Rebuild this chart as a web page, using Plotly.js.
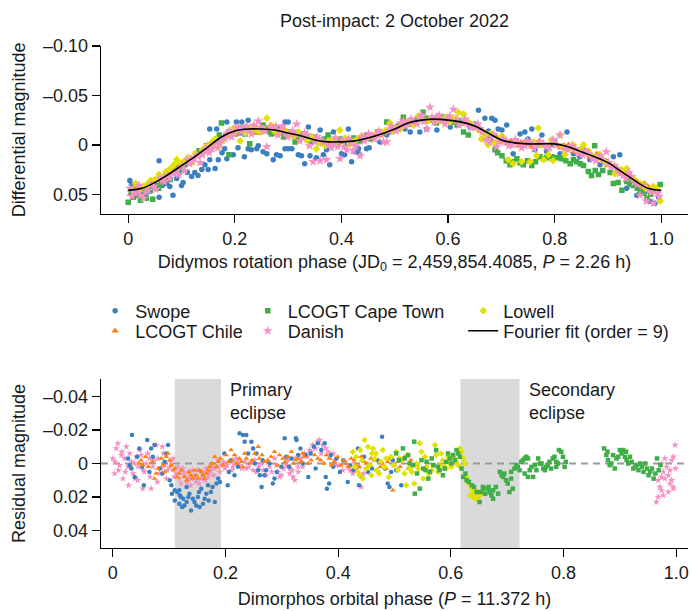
<!DOCTYPE html>
<html>
<head>
<meta charset="utf-8">
<script src="https://cdn.plot.ly/plotly-3.0.1.min.js"></script>
<style>html,body{margin:0;padding:0;background:#fff;}#chart{width:691px;height:611px;}</style>
</head>
<body>
<div id="chart"></div>
<script>
// ---------- TOP PANEL: differential magnitude vs Didymos rotation phase ----------
const fitX = [0.000,0.025,0.050,0.075,0.100,0.125,0.150,0.175,0.200,0.225,0.250,0.275,0.300,0.325,0.350,0.375,0.400,0.425,0.450,0.475,0.500,0.525,0.550,0.575,0.600,0.625,0.650,0.675,0.700,0.725,0.750,0.775,0.800,0.825,0.850,0.875,0.900,0.925,0.950,0.975,1.000];
const fitY = [0.046,0.044,0.038,0.030,0.021,0.012,0.002,-0.008,-0.014,-0.016,-0.016,-0.015,-0.012,-0.009,-0.005,-0.003,-0.003,-0.004,-0.007,-0.011,-0.016,-0.022,-0.025,-0.026,-0.025,-0.023,-0.019,-0.012,-0.005,-0.002,-0.001,-0.001,-0.001,0.002,0.007,0.012,0.018,0.027,0.036,0.044,0.046];

const swopeTop = [[0.003,0.036],[0.006,0.040],[0.013,0.044],[0.034,0.051],[0.041,0.047],[0.058,0.016],[0.058,0.053],[0.072,0.039],[0.078,0.042],[0.084,0.051],[0.091,0.034],[0.100,0.041],[0.103,0.038],[0.111,0.028],[0.119,0.032],[0.125,0.028],[0.131,0.031],[0.138,0.025],[0.150,0.025],[0.153,0.015],[0.163,0.024],[0.169,0.015],[0.181,0.004],[0.185,0.014],[0.153,-0.016],[0.166,-0.016],[0.197,0.010],[0.206,0.003],[0.218,0.012],[0.225,0.004],[0.231,0.005],[0.241,0.004],[0.244,0.001],[0.253,0.007],[0.260,0.009],[0.272,0.015],[0.278,0.010],[0.285,0.011],[0.294,0.004],[0.300,0.004],[0.294,-0.023],[0.300,-0.023],[0.203,-0.023],[0.213,-0.023],[0.225,-0.025],[0.185,-0.023],[0.319,0.010],[0.307,0.004],[0.325,0.011],[0.331,0.019],[0.338,-0.018],[0.341,0.011],[0.353,0.013],[0.360,-0.015],[0.366,0.010],[0.372,0.005],[0.378,0.020],[0.385,-0.013],[0.400,0.009],[0.406,0.010],[0.413,-0.016],[0.419,0.017],[0.425,0.007],[0.432,0.004],[0.433,0.009],[0.447,0.004],[0.452,0.003],[0.472,-0.003],[0.485,-0.010],[0.491,-0.013],[0.504,-0.018],[0.519,-0.016],[0.529,-0.013],[0.547,-0.013],[0.560,-0.016],[0.579,-0.015],[0.604,-0.018],[0.641,-0.018],[0.657,-0.035],[0.669,-0.027],[0.663,-0.006],[0.682,-0.027],[0.688,-0.025],[0.694,-0.016],[0.701,-0.015],[0.710,-0.020],[0.719,0.000],[0.722,0.009],[0.735,-0.011],[0.744,-0.013],[0.757,-0.016],[0.763,0.005],[0.776,-0.010],[0.785,0.007],[0.794,0.000],[0.810,0.009],[0.823,-0.013],[0.835,0.009],[0.847,0.012],[0.866,0.015],[0.885,0.020],[0.910,0.012],[0.922,0.010],[0.935,0.044],[0.954,0.051],[0.960,0.049],[0.972,0.047],[0.979,0.057],[0.988,0.059],
  [0.020,0.048],[0.047,0.043],[0.064,0.041],[0.095,0.027],[0.144,0.020],[0.176,0.008],[0.190,-0.010],[0.210,-0.012],[0.250,-0.014],[0.267,-0.012],[0.310,-0.011],[0.346,-0.003],[0.392,0.000],[0.440,-0.005],[0.460,-0.008],[0.512,-0.020],[0.538,-0.023],[0.570,-0.027],[0.592,-0.024],[0.620,-0.025],[0.650,-0.021],[0.676,-0.014],[0.728,-0.004],[0.750,-0.006],[0.769,0.000],[0.800,-0.004],[0.816,0.001],[0.856,0.006],[0.875,0.014],[0.896,0.018],[0.930,0.030],[0.945,0.036],[0.965,0.043],[0.995,0.053]];

const chileTop = [[0.004,0.050],[0.018,0.047],[0.031,0.043],[0.046,0.041],[0.058,0.036],[0.067,0.031],[0.082,0.029],[0.094,0.022],[0.108,0.019],[0.117,0.013],[0.129,0.012],[0.141,0.005],[0.156,0.003],[0.163,-0.002],[0.178,-0.005],[0.187,-0.009],[0.203,-0.011],[0.214,-0.014],[0.226,-0.017],[0.238,-0.012],[0.249,-0.019],[0.262,-0.013],[0.273,-0.016],[0.288,-0.011],[0.297,-0.014],[0.312,-0.008],[0.326,-0.011],[0.338,-0.004],[0.352,-0.007],[0.364,-0.001],[0.377,-0.005],[0.389,0.000],[0.402,-0.004],[0.418,-0.002],[0.433,-0.007],[0.446,-0.005],[0.458,-0.010],[0.471,-0.009],[0.486,-0.014],[0.497,-0.017],[0.512,-0.018],[0.524,-0.023],[0.538,-0.022],[0.551,-0.028],[0.566,-0.024],[0.579,-0.029],[0.592,-0.023],[0.606,-0.027],[0.618,-0.021],[0.633,-0.025],[0.647,-0.017],[0.661,-0.016],[0.676,-0.010],[0.689,-0.009],[0.702,-0.003],[0.718,-0.004],[0.731,0.001],[0.744,-0.003],[0.757,0.002],[0.771,-0.004],[0.786,0.001],[0.797,-0.002],[0.811,0.003],[0.826,0.000],[0.838,0.007],[0.851,0.004],[0.866,0.012],[0.879,0.009],[0.892,0.017],[0.905,0.020],[0.918,0.024],[0.931,0.030],[0.944,0.033],[0.957,0.040],[0.969,0.039],[0.982,0.045],[0.995,0.041],
  [0.011,0.044],[0.024,0.048],[0.039,0.039],[0.052,0.040],[0.075,0.032],[0.088,0.025],[0.101,0.018],[0.123,0.015],[0.135,0.007],[0.149,0.000],[0.171,-0.003],[0.195,-0.012],[0.209,-0.016],[0.232,-0.014],[0.256,-0.017],[0.281,-0.013],[0.305,-0.010],[0.319,-0.013],[0.345,-0.006],[0.371,-0.004],[0.395,-0.002],[0.411,-0.006],[0.425,-0.003],[0.452,-0.008],[0.465,-0.012],[0.479,-0.011],[0.505,-0.015],[0.531,-0.020],[0.545,-0.025],[0.559,-0.023],[0.586,-0.027],[0.599,-0.025],[0.612,-0.024],[0.626,-0.021],[0.641,-0.022],[0.668,-0.013],[0.683,-0.011],[0.695,-0.006],[0.710,-0.001],[0.724,-0.002],[0.737,-0.003],[0.751,0.000],[0.764,-0.002],[0.779,0.001],[0.804,0.001],[0.818,0.001],[0.832,0.004],[0.845,0.008],[0.858,0.009],[0.872,0.014],[0.886,0.013],[0.899,0.021],[0.912,0.022],[0.925,0.028],[0.937,0.033],[0.951,0.037],[0.963,0.044],[0.976,0.043],[0.989,0.047]];

const capeTop = [[0.000,0.058],[0.006,0.048],[0.015,0.051],[0.023,0.056],[0.034,0.054],[0.041,0.046],[0.046,0.055],[0.053,0.041],[0.062,0.039],[0.070,0.033],[0.079,0.035],[0.088,0.027],[0.097,0.025],[0.106,0.020],[0.118,0.017],[0.127,0.009],[0.138,0.009],[0.147,0.001],[0.158,-0.001],[0.166,-0.006],[0.175,-0.022],[0.183,-0.009],[0.189,0.010],[0.196,-0.013],[0.207,-0.015],[0.219,-0.011],[0.228,-0.001],[0.236,-0.018],[0.247,-0.013],[0.258,-0.017],[0.269,-0.011],[0.281,-0.016],[0.292,-0.008],[0.304,-0.013],[0.313,-0.003],[0.324,-0.009],[0.336,-0.006],[0.347,-0.008],[0.361,-0.002],[0.375,-0.010],[0.387,-0.004],[0.398,-0.006],[0.411,-0.001],[0.423,-0.007],[0.441,-0.008],[0.455,-0.006],[0.468,-0.013],[0.485,-0.023],[0.494,-0.015],[0.507,-0.019],[0.516,-0.028],[0.531,-0.021],[0.543,-0.027],[0.553,-0.033],[0.566,-0.025],[0.578,-0.022],[0.591,-0.028],[0.603,-0.024],[0.617,-0.020],[0.629,-0.013],[0.638,-0.010],[0.652,-0.018],[0.668,-0.011],[0.679,-0.006],[0.688,0.005],[0.701,0.011],[0.716,0.020],[0.729,0.014],[0.741,0.020],[0.757,0.021],[0.772,0.012],[0.785,0.013],[0.804,0.013],[0.813,0.014],[0.829,0.019],[0.841,0.017],[0.854,0.021],[0.863,0.027],[0.869,0.031],[0.875,0.001],[0.876,0.026],[0.882,0.030],[0.897,0.017],[0.910,0.039],[0.919,0.038],[0.926,0.046],[0.935,0.037],[0.948,0.041],[0.961,0.047],[0.973,0.054],[0.986,0.044],[0.998,0.040],
  [0.010,0.053],[0.029,0.047],[0.057,0.044],[0.074,0.030],[0.092,0.022],[0.112,0.014],[0.133,0.006],[0.152,0.004],[0.171,-0.010],[0.201,-0.011],[0.213,-0.017],[0.241,-0.014],[0.253,-0.020],[0.264,-0.014],[0.276,-0.012],[0.287,-0.014],[0.298,-0.011],[0.318,-0.008],[0.330,-0.011],[0.342,-0.004],[0.354,-0.005],[0.368,-0.006],[0.381,-0.003],[0.404,-0.004],[0.417,-0.005],[0.433,-0.004],[0.448,-0.010],[0.461,-0.009],[0.476,-0.012],[0.500,-0.017],[0.523,-0.023],[0.537,-0.024],[0.560,-0.027],[0.572,-0.027],[0.585,-0.024],[0.597,-0.026],[0.610,-0.023],[0.623,-0.022],[0.645,-0.019],[0.660,-0.015],[0.673,-0.012],[0.693,0.008],[0.709,0.016],[0.722,0.017],[0.735,0.018],[0.749,0.016],[0.764,0.017],[0.779,0.014],[0.795,0.012],[0.821,0.016],[0.835,0.015],[0.848,0.019],[0.890,0.026],[0.904,0.028],[0.941,0.040],[0.955,0.044],[0.967,0.049],[0.980,0.050],[0.992,0.047]];

const danishTop = [[0.003,0.044],[0.012,0.049],[0.020,0.041],[0.023,0.051],[0.029,0.054],[0.037,0.046],[0.044,0.039],[0.052,0.045],[0.060,0.034],[0.068,0.037],[0.078,0.034],[0.086,0.029],[0.095,0.030],[0.101,0.021],[0.106,0.026],[0.111,0.015],[0.120,0.017],[0.129,0.011],[0.135,0.018],[0.143,0.006],[0.152,0.008],[0.160,-0.001],[0.168,0.003],[0.176,-0.005],[0.186,-0.012],[0.194,-0.008],[0.203,-0.017],[0.212,-0.013],[0.222,-0.019],[0.231,-0.011],[0.244,-0.024],[0.252,-0.015],[0.260,0.002],[0.266,-0.018],[0.272,-0.017],[0.281,-0.010],[0.290,-0.019],[0.299,-0.008],[0.308,-0.014],[0.316,-0.021],[0.322,-0.004],[0.331,-0.012],[0.340,0.001],[0.347,0.017],[0.354,-0.008],[0.360,0.016],[0.366,-0.003],[0.372,0.015],[0.381,0.003],[0.389,-0.007],[0.397,0.014],[0.405,0.002],[0.414,-0.006],[0.422,0.006],[0.435,0.011],[0.443,-0.004],[0.451,-0.011],[0.462,-0.006],[0.470,-0.014],[0.479,-0.003],[0.485,-0.003],[0.493,-0.019],[0.502,-0.014],[0.511,-0.022],[0.520,-0.019],[0.531,-0.026],[0.542,-0.021],[0.550,-0.030],[0.560,-0.016],[0.566,-0.038],[0.574,-0.023],[0.583,-0.030],[0.594,-0.021],[0.603,-0.029],[0.610,-0.036],[0.621,-0.020],[0.632,-0.026],[0.643,-0.017],[0.656,-0.021],[0.664,-0.013],[0.672,-0.005],[0.678,-0.003],[0.686,-0.010],[0.691,0.002],[0.703,-0.006],[0.714,0.001],[0.726,-0.005],[0.738,0.003],[0.749,-0.004],[0.761,0.004],[0.773,-0.003],[0.784,0.002],[0.797,-0.005],[0.810,-0.010],[0.818,0.004],[0.832,0.001],[0.845,0.009],[0.858,0.006],[0.871,0.014],[0.884,0.011],[0.897,0.007],[0.906,0.022],[0.917,0.025],[0.928,0.031],[0.939,0.028],[0.949,0.038],[0.960,0.051],[0.966,0.041],[0.972,0.057],[0.978,0.046],[0.985,0.059],[0.993,0.049],
  [0.007,0.052],[0.016,0.046],[0.033,0.048],[0.048,0.042],[0.064,0.036],[0.073,0.031],[0.090,0.026],[0.115,0.019],[0.124,0.013],[0.139,0.010],[0.147,0.004],[0.157,0.004],[0.172,-0.002],[0.181,-0.007],[0.190,-0.014],[0.199,-0.012],[0.208,-0.018],[0.217,-0.016],[0.227,-0.014],[0.236,-0.020],[0.248,-0.018],[0.257,-0.014],[0.277,-0.019],[0.286,-0.015],[0.295,-0.012],[0.312,-0.011],[0.327,-0.008],[0.336,-0.010],[0.350,-0.003],[0.358,-0.006],[0.376,0.000],[0.385,-0.001],[0.393,0.002],[0.401,-0.005],[0.410,0.005],[0.418,-0.002],[0.427,0.001],[0.439,-0.008],[0.447,-0.007],[0.457,-0.009],[0.466,-0.010],[0.474,-0.011],[0.489,-0.014],[0.497,-0.016],[0.507,-0.018],[0.516,-0.024],[0.525,-0.022],[0.536,-0.023],[0.546,-0.027],[0.555,-0.024],[0.570,-0.028],[0.578,-0.026],[0.588,-0.025],[0.598,-0.026],[0.616,-0.025],[0.627,-0.022],[0.638,-0.021],[0.650,-0.018],[0.660,-0.016],[0.682,-0.008],[0.697,-0.003],[0.709,-0.004],[0.720,0.000],[0.732,-0.002],[0.744,0.001],[0.755,-0.002],[0.767,0.000],[0.779,-0.001],[0.790,0.003],[0.803,0.000],[0.825,0.005],[0.839,0.004],[0.852,0.010],[0.864,0.009],[0.877,0.016],[0.890,0.015],[0.901,0.018],[0.912,0.021],[0.922,0.029],[0.933,0.034],[0.944,0.032],[0.955,0.040],[0.982,0.048],[0.996,0.052]];

const lowellTop = [[0.008,0.045],[0.014,0.039],[0.027,0.042],[0.042,0.036],[0.058,0.030],[0.071,0.027],[0.086,0.020],[0.091,0.015],[0.104,0.017],[0.119,0.018],[0.133,0.011],[0.145,0.002],[0.159,-0.004],[0.170,0.002],[0.178,-0.005],[0.192,-0.009],[0.203,-0.014],[0.210,-0.004],[0.220,-0.012],[0.233,-0.016],[0.247,-0.013],[0.260,-0.027],[0.268,-0.020],[0.278,-0.012],[0.291,-0.016],[0.305,-0.010],[0.319,-0.013],[0.334,-0.005],[0.345,-0.008],[0.353,0.004],[0.370,0.001],[0.381,-0.004],[0.397,-0.015],[0.407,-0.007],[0.416,-0.001],[0.428,-0.005],[0.438,-0.009],[0.450,-0.007],[0.463,-0.010],[0.476,-0.013],[0.491,-0.022],[0.502,-0.017],[0.510,-0.016],[0.523,-0.023],[0.535,-0.020],[0.544,-0.029],[0.557,-0.024],[0.570,-0.027],[0.585,-0.024],[0.597,-0.028],[0.608,-0.026],[0.619,-0.033],[0.629,-0.031],[0.641,-0.022],[0.652,-0.019],[0.663,-0.006],[0.675,0.000],[0.679,-0.011],[0.688,-0.002],[0.701,-0.009],[0.713,0.015],[0.722,0.019],[0.738,0.017],[0.754,0.017],[0.766,0.011],[0.769,-0.017],[0.779,0.015],[0.788,0.010],[0.794,-0.005],[0.797,0.016],[0.810,-0.010],[0.819,0.010],[0.835,0.000],[0.847,0.005],[0.854,0.000],[0.863,0.006],[0.875,0.012],[0.885,0.010],[0.899,0.019],[0.913,0.029],[0.925,0.025],[0.935,0.024],[0.938,0.029],[0.947,0.034],[0.960,0.039],[0.971,0.044],[0.985,0.042],[0.998,0.057],
  [0.020,0.046],[0.035,0.040],[0.050,0.035],[0.065,0.033],[0.079,0.024],[0.097,0.019],[0.112,0.013],[0.126,0.009],[0.139,0.005],[0.152,0.000],[0.165,-0.006],[0.186,-0.011],[0.198,-0.017],[0.215,-0.015],[0.227,-0.017],[0.240,-0.015],[0.254,-0.016],[0.273,-0.015],[0.284,-0.013],[0.298,-0.012],[0.312,-0.009],[0.327,-0.008],[0.340,-0.006],[0.360,-0.002],[0.375,-0.004],[0.389,-0.002],[0.422,-0.003],[0.444,-0.006],[0.457,-0.009],[0.470,-0.011],[0.484,-0.015],[0.496,-0.014],[0.517,-0.020],[0.529,-0.025],[0.550,-0.026],[0.564,-0.025],[0.577,-0.024],[0.591,-0.026],[0.603,-0.023],[0.614,-0.027],[0.635,-0.024],[0.647,-0.020],[0.657,-0.015],[0.669,-0.010],[0.694,-0.005],[0.707,-0.004],[0.728,-0.002],[0.745,-0.001],[0.760,-0.003],[0.775,0.000],[0.802,-0.001],[0.815,0.002],[0.828,0.003],[0.841,0.006],[0.869,0.011],[0.880,0.014],[0.892,0.016],[0.906,0.021],[0.919,0.026],[0.930,0.027],[0.954,0.037],[0.966,0.040],[0.978,0.046],[0.991,0.044]];

// ---------- BOTTOM PANEL: residual magnitude vs Dimorphos orbital phase ----------
const swopeBot = [[0.027,-0.003],[0.033,0.003],[0.034,-0.017],[0.039,0.008],[0.047,-0.009],[0.055,0.013],[0.061,-0.014],[0.065,0.005],[0.068,-0.009],[0.074,-0.011],[0.083,0.003],[0.092,-0.001],[0.098,-0.011],[0.101,0.010],[0.104,0.013],[0.105,0.018],[0.110,0.016],[0.114,0.017],[0.118,0.016],[0.110,0.022],[0.118,0.024],[0.121,0.020],[0.123,0.026],[0.127,0.025],[0.131,0.014],[0.131,0.023],[0.136,0.018],[0.139,0.028],[0.142,0.021],[0.145,0.023],[0.148,0.025],[0.153,0.017],[0.154,0.026],[0.160,0.024],[0.166,0.018],[0.169,0.013],[0.170,0.022],[0.177,0.014],[0.181,0.023],[0.184,0.012],[0.190,0.011],[0.198,-0.006],[0.204,0.013],[0.206,0.005],[0.216,0.007],[0.225,-0.018],[0.231,-0.017],[0.234,-0.013],[0.237,-0.017],[0.240,-0.006],[0.246,-0.013],[0.249,-0.009],[0.255,-0.006],[0.261,0.007],[0.264,0.014],[0.269,0.007],[0.272,0.004],[0.278,0.000],[0.284,0.012],[0.287,0.009],[0.299,0.002],[0.305,-0.015],[0.308,-0.004],[0.317,-0.003],[0.326,-0.014],[0.329,-0.005],[0.325,-0.015],[0.333,-0.009],[0.342,-0.005],[0.347,0.008],[0.351,-0.006],[0.357,-0.010],[0.364,-0.012],[0.370,-0.008],[0.376,-0.012],[0.378,0.008],[0.384,0.012],[0.380,0.015],[0.391,0.002],[0.397,-0.003],[0.403,0.005],[0.417,0.011],[0.421,0.001],[0.435,-0.009],[0.437,0.013],[0.441,0.008],[0.453,0.005],[0.478,-0.016],[0.488,0.012],[0.491,0.014],[0.494,0.005],[0.497,-0.002],[0.512,0.013],
  [0.030,0.001],[0.043,-0.004],[0.052,0.002],[0.071,-0.004],[0.088,0.006],[0.095,-0.006],[0.119,0.019],[0.125,0.021],[0.134,0.020],[0.151,0.020],[0.157,0.015],[0.163,0.021],[0.174,0.017],[0.187,0.009],[0.210,-0.002],[0.222,0.002],[0.252,0.000],[0.258,0.004],[0.266,-0.002],[0.291,0.005],[0.313,0.002],[0.337,0.000],[0.360,0.003],[0.387,-0.005],[0.409,-0.002],[0.427,0.004],[0.446,-0.004],[0.460,0.003],[0.470,-0.002],[0.483,0.003],[0.503,0.004]];

const chileBot = [[0.046,0.000],[0.050,-0.002],[0.053,0.001],[0.074,0.009],[0.077,0.006],[0.080,0.003],[0.086,-0.003],[0.092,0.005],[0.098,-0.006],[0.101,-0.002],[0.104,0.001],[0.110,0.003],[0.118,0.006],[0.127,0.008],[0.135,0.005],[0.142,0.009],[0.148,0.007],[0.154,0.004],[0.160,0.007],[0.166,0.006],[0.172,0.002],[0.181,-0.004],[0.187,-0.001],[0.196,0.001],[0.201,-0.005],[0.210,-0.008],[0.213,-0.002],[0.220,0.000],[0.225,-0.003],[0.231,0.002],[0.237,-0.003],[0.243,0.000],[0.258,-0.010],[0.260,-0.003],[0.269,-0.001],[0.281,-0.004],[0.287,-0.007],[0.293,0.001],[0.302,-0.003],[0.311,-0.004],[0.317,-0.007],[0.325,-0.002],[0.328,-0.003],[0.334,-0.001],[0.340,-0.004],[0.352,-0.002],[0.364,-0.003],[0.375,0.000],[0.384,-0.003],[0.393,-0.001],[0.405,0.001],[0.414,0.000],[0.423,-0.003],[0.432,0.001],[0.441,-0.004],[0.450,0.000],[0.458,-0.003],[0.470,0.004],[0.479,0.000],[0.485,0.003],[0.491,-0.003],[0.497,0.016],[0.500,0.001],[0.506,-0.001],[0.518,-0.004],[0.524,0.003],
  [0.058,-0.004],[0.063,0.002],[0.070,-0.001],[0.089,0.001],[0.095,-0.004],[0.107,0.004],[0.114,0.008],[0.121,0.004],[0.131,0.010],[0.138,0.007],[0.145,0.004],[0.151,0.009],[0.157,0.005],[0.163,0.009],[0.169,0.004],[0.176,0.000],[0.184,0.002],[0.191,-0.003],[0.205,-0.001],[0.216,-0.005],[0.228,-0.001],[0.234,-0.006],[0.247,-0.002],[0.252,-0.006],[0.265,-0.005],[0.275,-0.002],[0.296,-0.005],[0.306,-0.001],[0.320,0.000],[0.337,-0.006],[0.346,0.000],[0.358,-0.005],[0.369,-0.002],[0.379,-0.005],[0.388,0.001],[0.399,-0.004],[0.410,-0.002],[0.419,0.002],[0.428,-0.002],[0.437,0.002],[0.446,-0.001],[0.454,0.002],[0.464,-0.002],[0.475,0.002],[0.488,-0.001],[0.510,0.002],[0.529,-0.002],[0.540,0.001]];

const capeBot = [[0.503,-0.006],[0.515,-0.009],[0.518,-0.003],[0.524,-0.005],[0.533,0.001],[0.535,-0.013],[0.536,0.018],[0.545,0.015],[0.551,0.003],[0.557,-0.001],[0.560,0.009],[0.563,0.005],[0.569,0.001],[0.574,-0.008],[0.580,0.004],[0.586,0.007],[0.592,-0.001],[0.598,-0.003],[0.604,-0.005],[0.610,-0.008],[0.616,-0.004],[0.619,0.003],[0.622,0.008],[0.628,0.010],[0.637,0.013],[0.646,0.017],[0.651,0.023],[0.657,0.014],[0.658,0.015],[0.666,0.015],[0.667,0.014],[0.672,0.019],[0.675,0.016],[0.675,0.021],[0.684,0.018],[0.687,0.005],[0.693,0.008],[0.695,0.006],[0.698,0.010],[0.701,0.012],[0.704,0.017],[0.707,0.009],[0.707,0.005],[0.710,0.015],[0.713,0.003],[0.719,0.002],[0.725,-0.001],[0.731,-0.003],[0.731,0.006],[0.734,-0.004],[0.737,-0.003],[0.737,0.008],[0.743,0.002],[0.746,0.008],[0.749,0.001],[0.755,-0.003],[0.761,0.000],[0.767,0.004],[0.769,0.002],[0.775,-0.001],[0.781,-0.003],[0.787,-0.001],[0.787,0.002],[0.792,-0.008],[0.796,-0.007],[0.799,-0.004],[0.802,0.002],[0.804,-0.001],[0.872,-0.009],[0.876,-0.005],[0.879,-0.002],[0.882,0.001],[0.888,-0.005],[0.891,0.003],[0.894,-0.003],[0.900,-0.008],[0.903,-0.006],[0.906,-0.008],[0.911,-0.007],[0.912,-0.002],[0.918,-0.004],[0.924,0.003],[0.930,0.001],[0.936,0.000],[0.942,0.005],[0.948,0.003],[0.951,0.007],[0.957,0.003],[0.960,0.009],[0.966,-0.003],[0.972,0.001],
  [0.508,-0.002],[0.527,0.000],[0.540,0.006],[0.548,-0.002],[0.555,0.004],[0.566,-0.003],[0.577,0.002],[0.589,0.003],[0.595,-0.006],[0.601,0.000],[0.607,-0.002],[0.613,-0.006],[0.626,0.006],[0.632,0.011],[0.641,0.014],[0.654,0.017],[0.661,0.018],[0.669,0.017],[0.680,0.014],[0.690,0.007],[0.716,0.001],[0.722,0.004],[0.728,-0.002],[0.740,0.004],[0.752,0.004],[0.758,0.000],[0.764,0.003],[0.772,0.001],[0.778,0.003],[0.784,-0.004],[0.790,0.000],[0.878,-0.007],[0.885,0.000],[0.897,-0.004],[0.909,-0.004],[0.915,0.000],[0.921,-0.001],[0.927,0.002],[0.933,0.004],[0.939,0.002],[0.945,0.000],[0.954,0.005],[0.963,0.006],[0.969,0.004]];

const danishBot = [[0.000,-0.003],[0.003,0.006],[0.006,-0.009],[0.009,-0.012],[0.012,0.001],[0.015,-0.005],[0.018,0.009],[0.021,-0.003],[0.024,-0.010],[0.027,0.002],[0.028,0.013],[0.033,-0.001],[0.036,0.006],[0.039,0.009],[0.042,-0.004],[0.045,0.002],[0.050,-0.005],[0.053,0.015],[0.056,0.005],[0.059,0.000],[0.065,-0.003],[0.068,0.015],[0.071,0.002],[0.077,-0.011],[0.080,-0.003],[0.083,0.006],[0.088,-0.010],[0.092,0.001],[0.095,0.009],[0.101,0.002],[0.107,-0.003],[0.113,0.006],[0.118,0.009],[0.124,0.003],[0.127,0.007],[0.131,0.011],[0.136,0.005],[0.139,0.009],[0.143,0.007],[0.148,0.011],[0.151,0.004],[0.157,0.009],[0.161,0.007],[0.166,0.003],[0.171,0.006],[0.175,0.001],[0.181,0.003],[0.187,-0.002],[0.193,0.001],[0.199,0.003],[0.209,-0.001],[0.213,0.002],[0.219,-0.003],[0.225,0.001],[0.237,0.003],[0.246,-0.001],[0.255,0.005],[0.264,0.000],[0.272,0.007],[0.278,0.002],[0.287,-0.003],[0.293,0.005],[0.299,0.007],[0.308,0.001],[0.314,0.006],[0.314,0.003],[0.320,0.008],[0.323,-0.003],[0.323,0.010],[0.329,0.005],[0.329,0.002],[0.334,-0.003],[0.340,-0.006],[0.349,-0.008],[0.355,-0.011],[0.364,-0.013],[0.367,-0.014],[0.373,-0.011],[0.382,-0.007],[0.391,-0.006],[0.397,0.001],[0.408,0.004],[0.417,0.002],[0.426,0.006],[0.432,0.003],[0.441,0.014],[0.450,0.003],[0.965,0.023],[0.968,0.020],[0.968,0.010],[0.971,0.014],[0.974,0.016],[0.974,0.008],[0.974,0.000],[0.977,0.019],[0.977,0.005],[0.980,0.009],[0.980,-0.003],[0.983,0.002],[0.986,0.017],[0.986,0.007],[0.989,0.012],[0.989,0.004],[0.992,0.010],[0.992,-0.002],[0.995,0.014],[0.995,0.015],[0.995,-0.004],[0.998,-0.011],[0.999,0.003],
  [0.004,-0.001],[0.010,0.004],[0.016,-0.007],[0.022,0.005],[0.030,-0.006],[0.038,0.000],[0.044,0.010],[0.048,-0.008],[0.054,0.004],[0.062,-0.006],[0.066,0.008],[0.073,-0.002],[0.079,0.011],[0.086,0.003],[0.090,-0.006],[0.097,0.004],[0.103,-0.001],[0.109,0.008],[0.115,0.002],[0.121,0.012],[0.126,0.005],[0.133,0.009],[0.138,0.013],[0.141,0.004],[0.146,0.008],[0.153,0.012],[0.159,0.005],[0.164,0.010],[0.169,0.008],[0.174,0.004],[0.179,0.007],[0.185,0.002],[0.190,0.005],[0.196,-0.001],[0.203,0.001],[0.211,0.004],[0.217,0.000],[0.222,-0.002],[0.229,0.003],[0.234,-0.001],[0.241,0.002],[0.249,0.004],[0.252,-0.002],[0.259,0.002],[0.267,0.004],[0.275,-0.001],[0.282,0.005],[0.290,0.001],[0.296,0.008],[0.303,0.003],[0.311,-0.002],[0.318,0.004],[0.337,0.002],[0.345,-0.004],[0.352,-0.007],[0.360,-0.009],[0.370,-0.006],[0.378,-0.009],[0.386,-0.004],[0.394,-0.002],[0.402,0.001],[0.412,-0.001],[0.421,0.004],[0.429,0.000],[0.437,0.002],[0.445,0.006]];

const lowellBot = [[0.426,-0.007],[0.432,-0.004],[0.435,0.005],[0.438,0.007],[0.439,-0.008],[0.444,0.009],[0.447,-0.014],[0.450,0.003],[0.453,-0.010],[0.459,0.007],[0.460,-0.006],[0.462,-0.009],[0.467,-0.006],[0.468,0.004],[0.476,-0.001],[0.479,-0.008],[0.485,-0.003],[0.494,-0.004],[0.503,-0.007],[0.509,-0.003],[0.518,0.006],[0.521,0.013],[0.527,0.003],[0.535,0.012],[0.539,0.000],[0.545,-0.012],[0.548,-0.007],[0.551,0.009],[0.557,0.002],[0.566,0.004],[0.572,-0.011],[0.574,-0.005],[0.580,0.001],[0.586,-0.002],[0.592,0.003],[0.598,0.000],[0.604,-0.005],[0.610,-0.001],[0.616,-0.009],[0.619,-0.007],[0.622,-0.003],[0.625,0.000],[0.628,0.008],[0.631,0.012],[0.634,0.019],[0.637,0.015],[0.640,0.020],[0.643,0.016],[0.646,0.018],[0.649,0.020],[0.651,0.019],[0.652,0.019],
  [0.430,0.002],[0.442,-0.002],[0.456,0.001],[0.465,-0.003],[0.473,0.006],[0.482,0.002],[0.490,0.008],[0.498,0.001],[0.506,0.004],[0.514,-0.002],[0.524,-0.005],[0.531,0.005],[0.542,0.003],[0.554,-0.004],[0.561,0.006],[0.569,0.001],[0.577,0.005],[0.583,-0.006],[0.589,0.002],[0.595,-0.004],[0.601,0.002],[0.607,-0.003],[0.613,0.001],[0.638,0.018],[0.644,0.021]];

// ---------- labels ----------
const topTitle = 'Post-impact: 2 October 2022';
const topXTitle = 'Didymos rotation phase (JD<sub>0</sub> = 2,459,854.4085, <i>P</i> = 2.26 h)';
const topYTitle = 'Differential magnitude';
const botXTitle = 'Dimorphos orbital phase (<i>P</i> = 11.372 h)';
const botYTitle = 'Residual magnitude';
const xTickVals = [0, 0.2, 0.4, 0.6, 0.8, 1.0];
const xTickText = ['0', '0.2', '0.4', '0.6', '0.8', '1.0'];
const topYTickVals = [-0.10, -0.05, 0, 0.05];
const topYTickText = ['\u20130.10', '\u20130.05', '0', '0.05'];
const botYTickVals = [-0.04, -0.02, 0, 0.02, 0.04];
const botYTickText = ['\u20130.04', '\u20130.02', '0', '0.02', '0.04'];
const eclipses = [{label: 'Primary<br>eclipse', x0: 0.110, x1: 0.192, labelX: 0.205},
                  {label: 'Secondary<br>eclipse', x0: 0.617, x1: 0.722, labelX: 0.736}];

const C = {swope: '#3a7fc0', chile: '#ff7f0e', cape: '#3fae49', danish: '#f590c6', lowell: '#e2e200'};
const FONT = 'Arial, "Liberation Sans", Helvetica, sans-serif';
const TXT = '#1a1a1a';
const xs = a => a.map(p => p[0]);
const ys = a => a.map(p => p[1]);

function sc(data, name, color, symbol, size, xa, ya, legend, show) {
  return {type: 'scatter', mode: 'markers', x: xs(data), y: ys(data), name: name,
    xaxis: xa, yaxis: ya, legend: legend, showlegend: show,
    marker: {color: color, symbol: symbol, size: size, line: {width: 0}}, hoverinfo: 'skip'};
}

const traces = [
  sc(swopeTop, 'Swope', C.swope, 'circle', 5.5, 'x', 'y', 'legend', true),
  sc(chileTop, 'LCOGT Chile', C.chile, 'triangle-up', 6.5, 'x', 'y', 'legend4', true),
  sc(capeTop, 'LCOGT Cape Town', C.cape, 'square', 5.5, 'x', 'y', 'legend2', true),
  sc(lowellTop, 'Lowell', C.lowell, 'diamond', 6, 'x', 'y', 'legend3', true),
  sc(danishTop, 'Danish', C.danish, 'star', 7.5, 'x', 'y', 'legend5', true),
  {type: 'scatter', mode: 'lines', x: fitX, y: fitY, name: 'Fourier fit (order = 9)', xaxis: 'x', yaxis: 'y',
   legend: 'legend6', line: {color: '#000', width: 1.6, shape: 'spline', smoothing: 1}, hoverinfo: 'skip'},
  sc(danishBot, 'Danish', C.danish, 'star', 5.5, 'x2', 'y2', 'legend5', false),
  sc(swopeBot, 'Swope', C.swope, 'circle', 4.5, 'x2', 'y2', 'legend', false),
  sc(chileBot, 'LCOGT Chile', C.chile, 'triangle-up', 5, 'x2', 'y2', 'legend4', false),
  sc(lowellBot, 'Lowell', C.lowell, 'diamond', 5, 'x2', 'y2', 'legend3', false),
  sc(capeBot, 'LCOGT Cape Town', C.cape, 'square', 4.5, 'x2', 'y2', 'legend2', false)
];

const axisCommon = {showline: true, linecolor: '#000', linewidth: 1.3, ticks: 'outside', ticklen: 8,
  tickwidth: 1.3, tickcolor: '#000', showgrid: false, zeroline: false, mirror: false,
  tickfont: {family: FONT, size: 18, color: TXT}, automargin: false};

const shapes = [];
const annotations = [];
eclipses.forEach(e => {
  shapes.push({type: 'rect', xref: 'x2', yref: 'y2 domain', x0: e.x0, x1: e.x1, y0: 0, y1: 1,
    fillcolor: '#dadada', line: {width: 0}, layer: 'below'});
  annotations.push({xref: 'x2', yref: 'y2 domain', x: e.labelX, y: 0.864, xanchor: 'left', yanchor: 'middle',
    align: 'left', text: e.label, showarrow: false, font: {family: FONT, size: 18, color: TXT}});
});
shapes.push({type: 'line', xref: 'x2 domain', yref: 'y2', x0: 0, x1: 1, y0: 0, y1: 0,
  line: {color: '#999999', width: 2, dash: '7px,5px'}, layer: 'below'});

const legendCommon = {orientation: 'v', xanchor: 'left', yanchor: 'top', bgcolor: 'rgba(0,0,0,0)',
  font: {family: FONT, size: 18, color: TXT}, tracegroupgap: 0, itemclick: false};
const row1 = 0.509, row2 = 0.469;
const col1 = -0.010, col2 = 0.250, col3 = 0.617;

const layout = {
  width: 691, height: 611,
  margin: {l: 101, r: 3, t: 46, b: 63},
  paper_bgcolor: '#fff', plot_bgcolor: '#fff',
  font: {family: FONT, size: 18, color: TXT},
  title: {text: topTitle, x: 0.5, xref: 'paper', xanchor: 'center', y: 0.9656, yref: 'container', yanchor: 'middle',
    font: {family: FONT, size: 18, color: TXT}},
  xaxis: Object.assign({}, axisCommon, {domain: [0, 1], anchor: 'y', range: [-0.051, 1.05],
    tickvals: xTickVals, ticktext: xTickText,
    title: {text: topXTitle, standoff: 7, font: {family: FONT, size: 18, color: TXT}}}),
  yaxis: Object.assign({}, axisCommon, {domain: [0.666, 1], anchor: 'x', range: [0.0696, -0.10],
    tickvals: topYTickVals, ticktext: topYTickText,
    title: {text: topYTitle, standoff: 12, font: {family: FONT, size: 18, color: TXT}}}),
  xaxis2: Object.assign({}, axisCommon, {domain: [0, 1], anchor: 'y2', range: [-0.021, 1.021],
    tickvals: xTickVals, ticktext: xTickText,
    title: {text: botXTitle, standoff: 10, font: {family: FONT, size: 18, color: TXT}}}),
  yaxis2: Object.assign({}, axisCommon, {domain: [0, 0.3367], anchor: 'x2', range: [0.0504, -0.0504],
    tickvals: botYTickVals, ticktext: botYTickText,
    title: {text: botYTitle, standoff: 12, font: {family: FONT, size: 18, color: TXT}}}),
  legend: Object.assign({}, legendCommon, {x: col1, y: row1}),
  legend4: Object.assign({}, legendCommon, {x: col1, y: row2}),
  legend2: Object.assign({}, legendCommon, {x: col2, y: row1}),
  legend5: Object.assign({}, legendCommon, {x: col2, y: row2}),
  legend3: Object.assign({}, legendCommon, {x: col3, y: row1}),
  legend6: Object.assign({}, legendCommon, {x: col3, y: row2}),
  shapes: shapes,
  annotations: annotations,
  showlegend: true
};

Plotly.newPlot('chart', traces, layout, {staticPlot: true, displayModeBar: false});
</script>
</body>
</html>
